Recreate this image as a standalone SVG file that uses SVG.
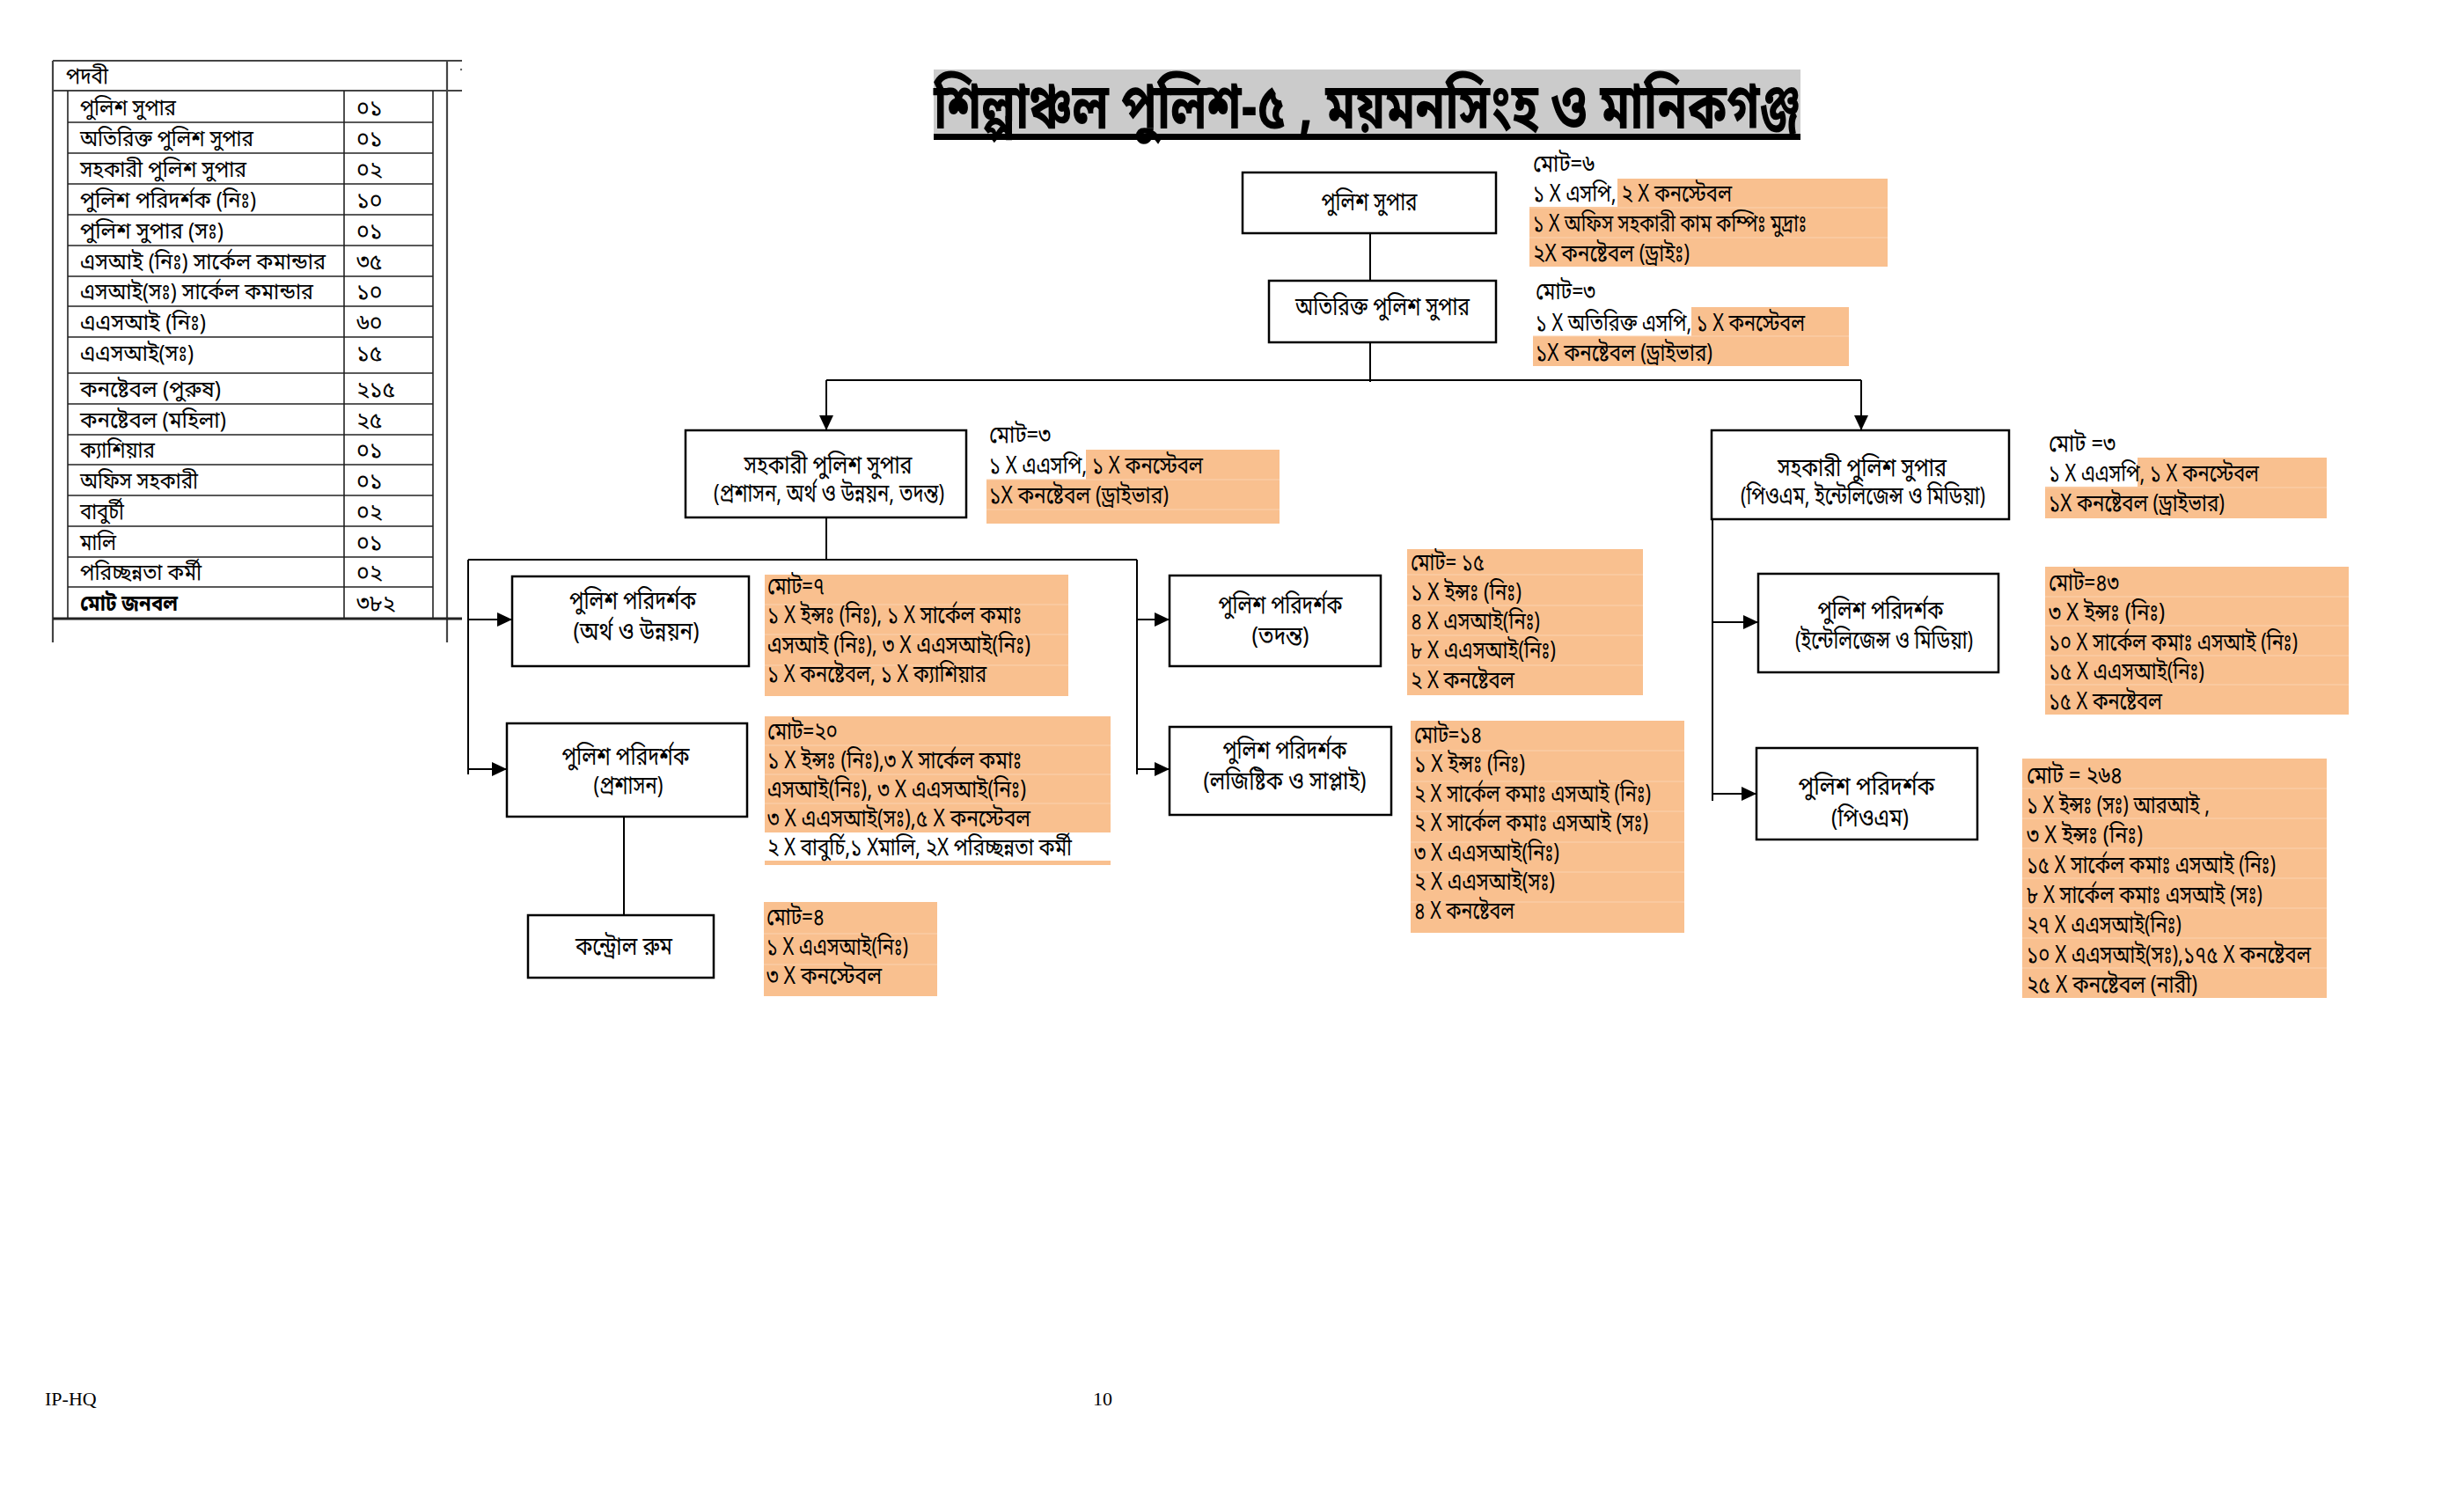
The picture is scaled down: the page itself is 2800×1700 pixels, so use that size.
<svg xmlns="http://www.w3.org/2000/svg" width="2800" height="1700" viewBox="0 0 2800 1700">
<defs>
<style>
.bn{font-family:"Noto Sans Bengali","Noto Serif Bengali","Lohit Bengali","Noto Sans","FreeSans",sans-serif;fill:#000}
.tb{font-size:25px}
.nt{font-size:28px;text-anchor:middle}
.it{font-size:27px}
.box{fill:#fff;stroke:#000;stroke-width:2.5}
.org{fill:#F9C08F}
.wht{fill:#fff}
.sep{stroke:#FCD2B0;stroke-width:1.2}
.tl{stroke:#222;stroke-width:1.6}
.to{stroke:#444;stroke-width:2.2}
.cn{stroke:#000;stroke-width:2;fill:none}
.ft{font-family:"Liberation Serif","Times New Roman",serif;font-size:22px;fill:#000}
</style>
<marker id="arr" markerWidth="17" markerHeight="16" refX="16" refY="8" orient="auto" markerUnits="userSpaceOnUse"><path d="M0,0 L17,8 L0,16 z" fill="#000"/></marker>
</defs>
<rect width="2800" height="1700" fill="#fff"/>

<!-- Summary table -->
<g id="table">
<g>
<line class="to" x1="60" y1="69" x2="525" y2="69"/>
<line class="to" x1="60" y1="103" x2="525" y2="103"/>
<line class="to" x1="60" y1="69" x2="60" y2="730"/>
<line class="to" x1="508" y1="69" x2="508" y2="730"/>
<line class="tl" x1="77" y1="103" x2="77" y2="703"/>
<line class="tl" x1="391" y1="103" x2="391" y2="703"/>
<line class="tl" x1="492" y1="103" x2="492" y2="703"/>
<line class="tl" x1="77" y1="139" x2="492" y2="139"/>
<line class="tl" x1="77" y1="174" x2="492" y2="174"/>
<line class="tl" x1="77" y1="209" x2="492" y2="209"/>
<line class="tl" x1="77" y1="244" x2="492" y2="244"/>
<line class="tl" x1="77" y1="279" x2="492" y2="279"/>
<line class="tl" x1="77" y1="314" x2="492" y2="314"/>
<line class="tl" x1="77" y1="348" x2="492" y2="348"/>
<line class="tl" x1="77" y1="383" x2="492" y2="383"/>
<line class="tl" x1="77" y1="424" x2="492" y2="424"/>
<line class="tl" x1="77" y1="459" x2="492" y2="459"/>
<line class="tl" x1="77" y1="494" x2="492" y2="494"/>
<line class="tl" x1="77" y1="528" x2="492" y2="528"/>
<line class="tl" x1="77" y1="563" x2="492" y2="563"/>
<line class="tl" x1="77" y1="598" x2="492" y2="598"/>
<line class="tl" x1="77" y1="633" x2="492" y2="633"/>
<line class="tl" x1="77" y1="667" x2="492" y2="667"/>
<line x1="60" y1="703" x2="525" y2="703" stroke="#222" stroke-width="3"/>
<circle cx="524" cy="79" r="1.2" fill="#666"/>
</g>
<g class="bn tb">
<text x="75" y="95" textLength="48" lengthAdjust="spacingAndGlyphs">পদবী</text>
<text x="91" y="131" textLength="109" lengthAdjust="spacingAndGlyphs">পুলিশ সুপার</text>
<text x="91" y="166" textLength="197" lengthAdjust="spacingAndGlyphs">অতিরিক্ত পুলিশ সুপার</text>
<text x="91" y="201" textLength="189" lengthAdjust="spacingAndGlyphs">সহকারী পুলিশ সুপার</text>
<text x="91" y="236" textLength="200" lengthAdjust="spacingAndGlyphs">পুলিশ পরিদর্শক (নিঃ)</text>
<text x="91" y="271" textLength="163" lengthAdjust="spacingAndGlyphs">পুলিশ সুপার (সঃ)</text>
<text x="91" y="306" textLength="279" lengthAdjust="spacingAndGlyphs">এসআই (নিঃ) সার্কেল কমান্ডার</text>
<text x="91" y="340" textLength="265" lengthAdjust="spacingAndGlyphs">এসআই(সঃ) সার্কেল কমান্ডার</text>
<text x="91" y="375" textLength="143" lengthAdjust="spacingAndGlyphs">এএসআই (নিঃ)</text>
<text x="91" y="410" textLength="129" lengthAdjust="spacingAndGlyphs">এএসআই(সঃ)</text>
<text x="91" y="451" textLength="160" lengthAdjust="spacingAndGlyphs">কনষ্টেবল (পুরুষ)</text>
<text x="91" y="486" textLength="166" lengthAdjust="spacingAndGlyphs">কনষ্টেবল (মহিলা)</text>
<text x="91" y="520" textLength="85" lengthAdjust="spacingAndGlyphs">ক্যাশিয়ার</text>
<text x="91" y="555" textLength="134" lengthAdjust="spacingAndGlyphs">অফিস সহকারী</text>
<text x="91" y="590" textLength="50" lengthAdjust="spacingAndGlyphs">বাবুর্চী</text>
<text x="91" y="625" textLength="41" lengthAdjust="spacingAndGlyphs">মালি</text>
<text x="91" y="659" textLength="138" lengthAdjust="spacingAndGlyphs">পরিচ্ছন্নতা কর্মী</text>
<text x="91" y="694" textLength="111" lengthAdjust="spacingAndGlyphs" font-weight="bold">মোট জনবল</text>
<text x="405" y="131">০১</text>
<text x="405" y="166">০১</text>
<text x="405" y="201">০২</text>
<text x="405" y="236">১০</text>
<text x="405" y="271">০১</text>
<text x="405" y="306">৩৫</text>
<text x="405" y="340">১০</text>
<text x="405" y="375">৬০</text>
<text x="405" y="410">১৫</text>
<text x="405" y="451">২১৫</text>
<text x="405" y="486">২৫</text>
<text x="405" y="520">০১</text>
<text x="405" y="555">০১</text>
<text x="405" y="590">০২</text>
<text x="405" y="625">০১</text>
<text x="405" y="659">০২</text>
<text x="405" y="694">৩৮২</text>
</g>
</g>

<!-- Title -->
<g id="title">
<rect x="1061" y="79" width="985" height="76" fill="#CBCBCB"/>
<rect x="1061" y="152" width="985" height="7" fill="#000"/>
<text class="bn" x="1061" y="146" font-size="72" font-weight="bold" textLength="985" lengthAdjust="spacingAndGlyphs">শিল্পাঞ্চল পুলিশ-৫ , ময়মনসিংহ ও মানিকগঞ্জ</text>
</g>

<!-- Connectors -->
<g id="connectors" class="cn">
<line x1="1557" y1="265" x2="1557" y2="319"/>
<line x1="1557" y1="389" x2="1557" y2="434"/>
<line x1="939" y1="432" x2="2115" y2="432"/>
<line x1="939" y1="432" x2="939" y2="488" marker-end="url(#arr)"/>
<line x1="2115" y1="432" x2="2115" y2="488" marker-end="url(#arr)"/>
<line x1="939" y1="588" x2="939" y2="636"/>
<line x1="532" y1="636" x2="1292" y2="636"/>
<line x1="532" y1="636" x2="532" y2="880"/>
<line x1="532" y1="704" x2="581" y2="704" marker-end="url(#arr)"/>
<line x1="532" y1="874" x2="575" y2="874" marker-end="url(#arr)"/>
<line x1="1292" y1="636" x2="1292" y2="880"/>
<line x1="1292" y1="704" x2="1328" y2="704" marker-end="url(#arr)"/>
<line x1="1292" y1="874" x2="1328" y2="874" marker-end="url(#arr)"/>
<line x1="709" y1="928" x2="709" y2="1040"/>
<line x1="1946" y1="590" x2="1946" y2="910"/>
<line x1="1946" y1="707" x2="1997" y2="707" marker-end="url(#arr)"/>
<line x1="1946" y1="902" x2="1995" y2="902" marker-end="url(#arr)"/>
</g>

<!-- Nodes -->
<g id="n-sp">
<rect class="box" x="1412" y="196" width="288" height="69"/>
<text class="bn nt" x="1556" y="239" textLength="109" lengthAdjust="spacingAndGlyphs">পুলিশ সুপার</text>
</g>
<g id="n-addl-sp">
<rect class="box" x="1442" y="319" width="258" height="70"/>
<text class="bn nt" x="1571" y="358" textLength="198" lengthAdjust="spacingAndGlyphs">অতিরিক্ত পুলিশ সুপার</text>
</g>
<g id="n-asp-left">
<rect class="box" x="779" y="489" width="319" height="99"/>
<text class="bn nt" x="941" y="538" textLength="191" lengthAdjust="spacingAndGlyphs">সহকারী পুলিশ সুপার</text>
<text class="bn nt" x="942" y="570" textLength="262" lengthAdjust="spacingAndGlyphs">(প্রশাসন, অর্থ ও উন্নয়ন, তদন্ত)</text>
</g>
<g id="n-asp-right">
<rect class="box" x="1945" y="489" width="338" height="101"/>
<text class="bn nt" x="2116" y="541" textLength="192" lengthAdjust="spacingAndGlyphs">সহকারী পুলিশ সুপার</text>
<text class="bn nt" x="2117" y="573" textLength="278" lengthAdjust="spacingAndGlyphs">(পিওএম, ইন্টেলিজেন্স ও মিডিয়া)</text>
</g>
<g id="n-pi-finance">
<rect class="box" x="582" y="655" width="269" height="102"/>
<text class="bn nt" x="719" y="692" textLength="144" lengthAdjust="spacingAndGlyphs">পুলিশ পরিদর্শক</text>
<text class="bn nt" x="723" y="727" textLength="143" lengthAdjust="spacingAndGlyphs">(অর্থ ও উন্নয়ন)</text>
</g>
<g id="n-pi-admin">
<rect class="box" x="576" y="822" width="273" height="106"/>
<text class="bn nt" x="711" y="869" textLength="145" lengthAdjust="spacingAndGlyphs">পুলিশ পরিদর্শক</text>
<text class="bn nt" x="714" y="902" textLength="79" lengthAdjust="spacingAndGlyphs">(প্রশাসন)</text>
</g>
<g id="n-control">
<rect class="box" x="600" y="1040" width="211" height="71"/>
<text class="bn nt" x="709" y="1085" textLength="110" lengthAdjust="spacingAndGlyphs">কন্ট্রোল রুম</text>
</g>
<g id="n-pi-invest">
<rect class="box" x="1329" y="654" width="240" height="103"/>
<text class="bn nt" x="1455" y="697" textLength="141" lengthAdjust="spacingAndGlyphs">পুলিশ পরিদর্শক</text>
<text class="bn nt" x="1455" y="732" textLength="65" lengthAdjust="spacingAndGlyphs">(তদন্ত)</text>
</g>
<g id="n-pi-logistics">
<rect class="box" x="1329" y="826" width="252" height="100"/>
<text class="bn nt" x="1460" y="862" textLength="141" lengthAdjust="spacingAndGlyphs">পুলিশ পরিদর্শক</text>
<text class="bn nt" x="1460" y="897" textLength="185" lengthAdjust="spacingAndGlyphs">(লজিষ্টিক ও সাপ্লাই)</text>
</g>
<g id="n-pi-intel">
<rect class="box" x="1998" y="652" width="273" height="112"/>
<text class="bn nt" x="2137" y="703" textLength="143" lengthAdjust="spacingAndGlyphs">পুলিশ পরিদর্শক</text>
<text class="bn nt" x="2141" y="737" textLength="202" lengthAdjust="spacingAndGlyphs">(ইন্টেলিজেন্স ও মিডিয়া)</text>
</g>
<g id="n-pi-pom">
<rect class="box" x="1996" y="850" width="251" height="104"/>
<text class="bn nt" x="2121" y="903" textLength="155" lengthAdjust="spacingAndGlyphs">পুলিশ পরিদর্শক</text>
<text class="bn nt" x="2125" y="939" textLength="88" lengthAdjust="spacingAndGlyphs">(পিওএম)</text>
</g>

<!-- Manpower notes -->
<g id="info-sp" class="bn it">
<rect class="org" x="1738" y="203" width="407" height="100"/>
<rect class="wht" x="1738" y="203" width="100" height="32"/>
<line class="sep" x1="1738" y1="236" x2="2145" y2="236"/>
<line class="sep" x1="1738" y1="270" x2="2145" y2="270"/>
<text x="1742" y="195" textLength="70" lengthAdjust="spacingAndGlyphs">মোট=৬</text>
<text x="1742" y="229" textLength="226" lengthAdjust="spacingAndGlyphs">১ X এসপি, ২ X কনস্টেবল</text>
<text x="1742" y="263" textLength="311" lengthAdjust="spacingAndGlyphs">১ X অফিস সহকারী কাম কম্পিঃ মুদ্রাঃ</text>
<text x="1742" y="297" textLength="178" lengthAdjust="spacingAndGlyphs">২X কনষ্টেবল (ড্রাইঃ)</text>
</g>
<g id="info-addl" class="bn it">
<rect class="org" x="1742" y="349" width="359" height="67"/>
<rect class="wht" x="1742" y="349" width="180" height="33"/>
<line class="sep" x1="1742" y1="382" x2="2101" y2="382"/>
<text x="1745" y="340" textLength="68" lengthAdjust="spacingAndGlyphs">মোট=৩</text>
<text x="1745" y="376" textLength="306" lengthAdjust="spacingAndGlyphs">১ X অতিরিক্ত এসপি, ১ X কনস্টেবল</text>
<text x="1745" y="410" textLength="201" lengthAdjust="spacingAndGlyphs">১X কনষ্টেবল (ড্রাইভার)</text>
</g>
<g id="info-asp-left" class="bn it">
<rect class="org" x="1121" y="511" width="333" height="84"/>
<rect class="wht" x="1121" y="511" width="113" height="34"/>
<line class="sep" x1="1121" y1="545" x2="1454" y2="545"/>
<line class="sep" x1="1121" y1="579" x2="1454" y2="579"/>
<text x="1124" y="503" textLength="70" lengthAdjust="spacingAndGlyphs">মোট=৩</text>
<text x="1124" y="538" textLength="243" lengthAdjust="spacingAndGlyphs">১ X এএসপি, ১ X কনস্টেবল</text>
<text x="1124" y="572" textLength="204" lengthAdjust="spacingAndGlyphs">১X কনষ্টেবল (ড্রাইভার)</text>
</g>
<g id="info-finance" class="bn it">
<rect class="org" x="869" y="653" width="345" height="138"/>
<line class="sep" x1="869" y1="687" x2="1214" y2="687"/>
<line class="sep" x1="869" y1="721" x2="1214" y2="721"/>
<line class="sep" x1="869" y1="756" x2="1214" y2="756"/>
<text x="872" y="675" textLength="65" lengthAdjust="spacingAndGlyphs">মোট=৭</text>
<text x="872" y="708" textLength="289" lengthAdjust="spacingAndGlyphs">১ X ইন্সঃ (নিঃ), ১ X সার্কেল কমাঃ</text>
<text x="872" y="742" textLength="299" lengthAdjust="spacingAndGlyphs">এসআই (নিঃ), ৩ X এএসআই(নিঃ)</text>
<text x="872" y="775" textLength="249" lengthAdjust="spacingAndGlyphs">১ X কনষ্টেবল, ১ X ক্যাশিয়ার</text>
</g>
<g id="info-admin" class="bn it">
<rect class="org" x="869" y="814" width="393" height="132"/>
<rect class="org" x="869" y="978" width="393" height="5"/>
<line class="sep" x1="869" y1="847" x2="1262" y2="847"/>
<line class="sep" x1="869" y1="880" x2="1262" y2="880"/>
<line class="sep" x1="869" y1="913" x2="1262" y2="913"/>
<text x="872" y="840" textLength="80" lengthAdjust="spacingAndGlyphs">মোট=২০</text>
<text x="872" y="873" textLength="289" lengthAdjust="spacingAndGlyphs">১ X ইন্সঃ (নিঃ),৩ X সার্কেল কমাঃ</text>
<text x="872" y="906" textLength="294" lengthAdjust="spacingAndGlyphs">এসআই(নিঃ), ৩ X এএসআই(নিঃ)</text>
<text x="872" y="939" textLength="299" lengthAdjust="spacingAndGlyphs">৩ X এএসআই(সঃ),৫ X কনস্টেবল</text>
<text x="872" y="972" textLength="346" lengthAdjust="spacingAndGlyphs">২ X বাবুর্চি,১ Xমালি, ২X পরিচ্ছন্নতা কর্মী</text>
</g>
<g id="info-control" class="bn it">
<rect class="org" x="868" y="1025" width="197" height="107"/>
<line class="sep" x1="868" y1="1061" x2="1065" y2="1061"/>
<line class="sep" x1="868" y1="1096" x2="1065" y2="1096"/>
<text x="871" y="1051" textLength="66" lengthAdjust="spacingAndGlyphs">মোট=৪</text>
<text x="871" y="1085" textLength="161" lengthAdjust="spacingAndGlyphs">১ X এএসআই(নিঃ)</text>
<text x="871" y="1118" textLength="131" lengthAdjust="spacingAndGlyphs">৩ X কনস্টেবল</text>
</g>
<g id="info-invest" class="bn it">
<rect class="org" x="1599" y="624" width="268" height="166"/>
<line class="sep" x1="1599" y1="653" x2="1867" y2="653"/>
<line class="sep" x1="1599" y1="688" x2="1867" y2="688"/>
<line class="sep" x1="1599" y1="722" x2="1867" y2="722"/>
<line class="sep" x1="1599" y1="756" x2="1867" y2="756"/>
<text x="1603" y="648" textLength="84" lengthAdjust="spacingAndGlyphs">মোট= ১৫</text>
<text x="1603" y="682" textLength="126" lengthAdjust="spacingAndGlyphs">১ X ইন্সঃ (নিঃ)</text>
<text x="1603" y="715" textLength="147" lengthAdjust="spacingAndGlyphs">৪ X এসআই(নিঃ)</text>
<text x="1603" y="748" textLength="165" lengthAdjust="spacingAndGlyphs">৮ X এএসআই(নিঃ)</text>
<text x="1603" y="782" textLength="118" lengthAdjust="spacingAndGlyphs">২ X কনষ্টেবল</text>
</g>
<g id="info-logistics" class="bn it">
<rect class="org" x="1603" y="819" width="311" height="241"/>
<line class="sep" x1="1603" y1="853" x2="1914" y2="853"/>
<line class="sep" x1="1603" y1="888" x2="1914" y2="888"/>
<line class="sep" x1="1603" y1="922" x2="1914" y2="922"/>
<line class="sep" x1="1603" y1="957" x2="1914" y2="957"/>
<line class="sep" x1="1603" y1="991" x2="1914" y2="991"/>
<line class="sep" x1="1603" y1="1025" x2="1914" y2="1025"/>
<text x="1607" y="844" textLength="77" lengthAdjust="spacingAndGlyphs">মোট=১৪</text>
<text x="1607" y="877" textLength="126" lengthAdjust="spacingAndGlyphs">১ X ইন্সঃ (নিঃ)</text>
<text x="1607" y="911" textLength="269" lengthAdjust="spacingAndGlyphs">২ X সার্কেল কমাঃ এসআই (নিঃ)</text>
<text x="1607" y="944" textLength="266" lengthAdjust="spacingAndGlyphs">২ X সার্কেল কমাঃ এসআই (সঃ)</text>
<text x="1607" y="978" textLength="165" lengthAdjust="spacingAndGlyphs">৩ X এএসআই(নিঃ)</text>
<text x="1607" y="1011" textLength="160" lengthAdjust="spacingAndGlyphs">২ X এএসআই(সঃ)</text>
<text x="1607" y="1044" textLength="114" lengthAdjust="spacingAndGlyphs">৪ X কনষ্টেবল</text>
</g>
<g id="info-asp-right" class="bn it">
<rect class="org" x="2324" y="520" width="320" height="69"/>
<rect class="wht" x="2324" y="520" width="105" height="33"/>
<line class="sep" x1="2324" y1="554" x2="2644" y2="554"/>
<text x="2328" y="513" textLength="76" lengthAdjust="spacingAndGlyphs">মোট =৩</text>
<text x="2328" y="547" textLength="239" lengthAdjust="spacingAndGlyphs">১ X এএসপি, ১ X কনস্টেবল</text>
<text x="2328" y="581" textLength="200" lengthAdjust="spacingAndGlyphs">১X কনষ্টেবল (ড্রাইভার)</text>
</g>
<g id="info-intel" class="bn it">
<rect class="org" x="2324" y="644" width="345" height="168"/>
<line class="sep" x1="2324" y1="678" x2="2669" y2="678"/>
<line class="sep" x1="2324" y1="711" x2="2669" y2="711"/>
<line class="sep" x1="2324" y1="745" x2="2669" y2="745"/>
<line class="sep" x1="2324" y1="778" x2="2669" y2="778"/>
<text x="2328" y="671" textLength="80" lengthAdjust="spacingAndGlyphs">মোট=৪৩</text>
<text x="2328" y="705" textLength="132" lengthAdjust="spacingAndGlyphs">৩ X ইন্সঃ (নিঃ)</text>
<text x="2328" y="739" textLength="283" lengthAdjust="spacingAndGlyphs">১০ X সার্কেল কমাঃ এসআই (নিঃ)</text>
<text x="2328" y="772" textLength="177" lengthAdjust="spacingAndGlyphs">১৫ X এএসআই(নিঃ)</text>
<text x="2328" y="806" textLength="129" lengthAdjust="spacingAndGlyphs">১৫ X কনষ্টেবল</text>
</g>
<g id="info-pom" class="bn it">
<rect class="org" x="2298" y="862" width="346" height="272"/>
<line class="sep" x1="2298" y1="896" x2="2644" y2="896"/>
<line class="sep" x1="2298" y1="930" x2="2644" y2="930"/>
<line class="sep" x1="2298" y1="964" x2="2644" y2="964"/>
<line class="sep" x1="2298" y1="998" x2="2644" y2="998"/>
<line class="sep" x1="2298" y1="1032" x2="2644" y2="1032"/>
<line class="sep" x1="2298" y1="1066" x2="2644" y2="1066"/>
<line class="sep" x1="2298" y1="1100" x2="2644" y2="1100"/>
<text x="2303" y="890" textLength="109" lengthAdjust="spacingAndGlyphs">মোট = ২৬৪</text>
<text x="2303" y="924" textLength="208" lengthAdjust="spacingAndGlyphs">১ X ইন্সঃ (সঃ) আরআই ,</text>
<text x="2303" y="958" textLength="132" lengthAdjust="spacingAndGlyphs">৩ X ইন্সঃ (নিঃ)</text>
<text x="2303" y="992" textLength="283" lengthAdjust="spacingAndGlyphs">১৫ X সার্কেল কমাঃ এসআই (নিঃ)</text>
<text x="2303" y="1026" textLength="268" lengthAdjust="spacingAndGlyphs">৮ X সার্কেল কমাঃ এসআই (সঃ)</text>
<text x="2303" y="1060" textLength="176" lengthAdjust="spacingAndGlyphs">২৭ X এএসআই(নিঃ)</text>
<text x="2303" y="1094" textLength="323" lengthAdjust="spacingAndGlyphs">১০ X এএসআই(সঃ),১৭৫ X কনষ্টেবল</text>
<text x="2303" y="1128" textLength="194" lengthAdjust="spacingAndGlyphs">২৫ X কনষ্টেবল (নারী)</text>
</g>

<!-- Footer -->
<g id="footer">
<text class="ft" x="51" y="1597">IP-HQ</text>
<text class="ft" x="1242" y="1597">10</text>
</g>
</svg>
